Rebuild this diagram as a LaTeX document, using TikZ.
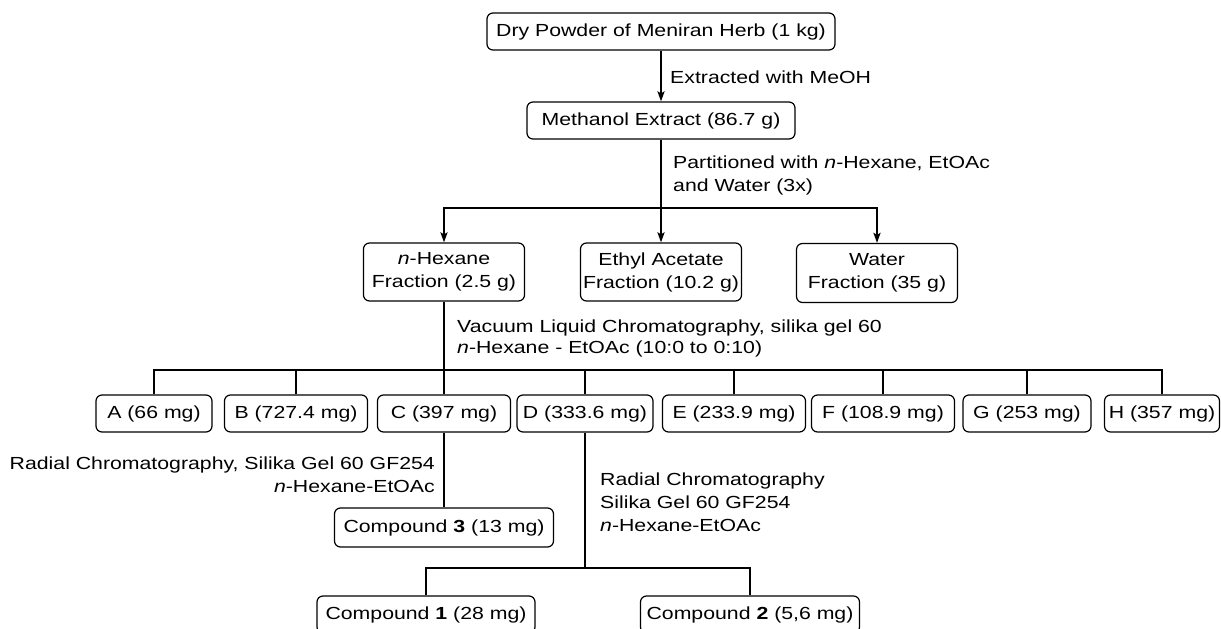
\documentclass[tikz,border=0pt]{standalone}
\usepackage{fontspec}
\setmainfont[FakeStretch=1.215]{Liberation Sans}
\usetikzlibrary{arrows.meta}
\begin{document}
\begin{tikzpicture}[x=1pt,y=-1pt,
  box/.style={draw, line width=1.2pt, rounded corners=6pt, inner sep=0pt, align=center, font=\fontsize{17.5}{23}\selectfont},
  lbl/.style={inner sep=0pt, font=\fontsize{17.5}{23}\selectfont},
  conn/.style={line width=2pt},
  arr/.style={conn, -{Stealth[length=10pt,width=7pt,inset=2pt]}}]
\useasboundingbox (0,0) rectangle (1221,629);
% boxes
\node[box, minimum width=348pt, minimum height=37pt] (top) at (661,31.5) {Dry Powder of Meniran Herb (1 kg)};
\node[box, minimum width=268pt, minimum height=37pt] (meth) at (661,120.5) {Methanol Extract (86.7 g)};
\node[box, minimum width=161pt, minimum height=58pt] (hex) at (444,272) {\textit{n}-Hexane\\Fraction (2.5 g)};
\node[box, minimum width=161pt, minimum height=58pt] (eth) at (661,272) {Ethyl Acetate\\Fraction (10.2 g)};
\node[box, minimum width=161pt, minimum height=59pt] (wat) at (877,273) {Water\\Fraction (35 g)};
\node[box, minimum width=116pt, minimum height=37pt] (A) at (154,413.5) {A (66 mg)};
\node[box, minimum width=143pt, minimum height=37pt] (B) at (296,413.5) {B (727.4 mg)};
\node[box, minimum width=133pt, minimum height=37pt] (C) at (444,413.5) {C (397 mg)};
\node[box, minimum width=136pt, minimum height=37pt] (D) at (585,413.5) {D (333.6 mg)};
\node[box, minimum width=143pt, minimum height=37pt] (E) at (734,413.5) {E (233.9 mg)};
\node[box, minimum width=143pt, minimum height=37pt] (F) at (883,413.5) {F (108.9 mg)};
\node[box, minimum width=128pt, minimum height=37pt] (G) at (1027,413.5) {G (253 mg)};
\node[box, minimum width=115pt, minimum height=37pt] (H) at (1162,413.5) {H (357 mg)};
\node[box, minimum width=219pt, minimum height=39pt] (comp3) at (444,527.5) {Compound \textbf{3} (13 mg)};
\node[box, minimum width=218pt, minimum height=37pt] (comp1) at (426,614.5) {Compound \textbf{1} (28 mg)};
\node[box, minimum width=219pt, minimum height=37pt] (comp2) at (750,614.5) {Compound \textbf{2} (5,6 mg)};
% labels
\node[lbl, anchor=west] (t1) at (670,77) {Extracted with MeOH};
\node[lbl, anchor=west, align=left] (t2) at (673,175.5) {Partitioned with \textit{n}-Hexane, EtOAc\\and Water (3x)};
\node[lbl, anchor=west, align=left, font=\fontsize{17.5}{21}\selectfont] (t3) at (457,338.5) {Vacuum Liquid Chromatography, silika gel 60\\\textit{n}-Hexane - EtOAc (10:0 to 0:10)};
\node[lbl, anchor=east, align=right] (t4) at (435,475) {Radial Chromatography, Silika Gel 60 GF254\\\textit{n}-Hexane-EtOAc};
\node[lbl, anchor=west, align=left] (t5) at (600,502.5) {Radial Chromatography\\Silika Gel 60 GF254\\\textit{n}-Hexane-EtOAc};
% connectors
\draw[arr] (top.south) -- (meth.north);
\coordinate (pb) at (661,208);
\draw[conn] (meth.south) -- (pb);
\draw[arr] (pb) -| (hex.north);
\draw[arr] (pb) -- (eth.north);
\draw[arr] (pb) -| (wat.north);
\coordinate (hb) at (444,370);
\draw[conn] (hex.south) -- (hb);
\foreach \n in {A,B,C,D,E,F,G,H} \draw[conn] (\n.north) |- (hb);
\draw[conn] (C.south) -- (comp3.north);
\coordinate (db) at (585,568);
\draw[conn] (D.south) -- (db);
\draw[conn] (db) -| (comp1.north);
\draw[conn] (db) -| (comp2.north);
\end{tikzpicture}
\end{document}
